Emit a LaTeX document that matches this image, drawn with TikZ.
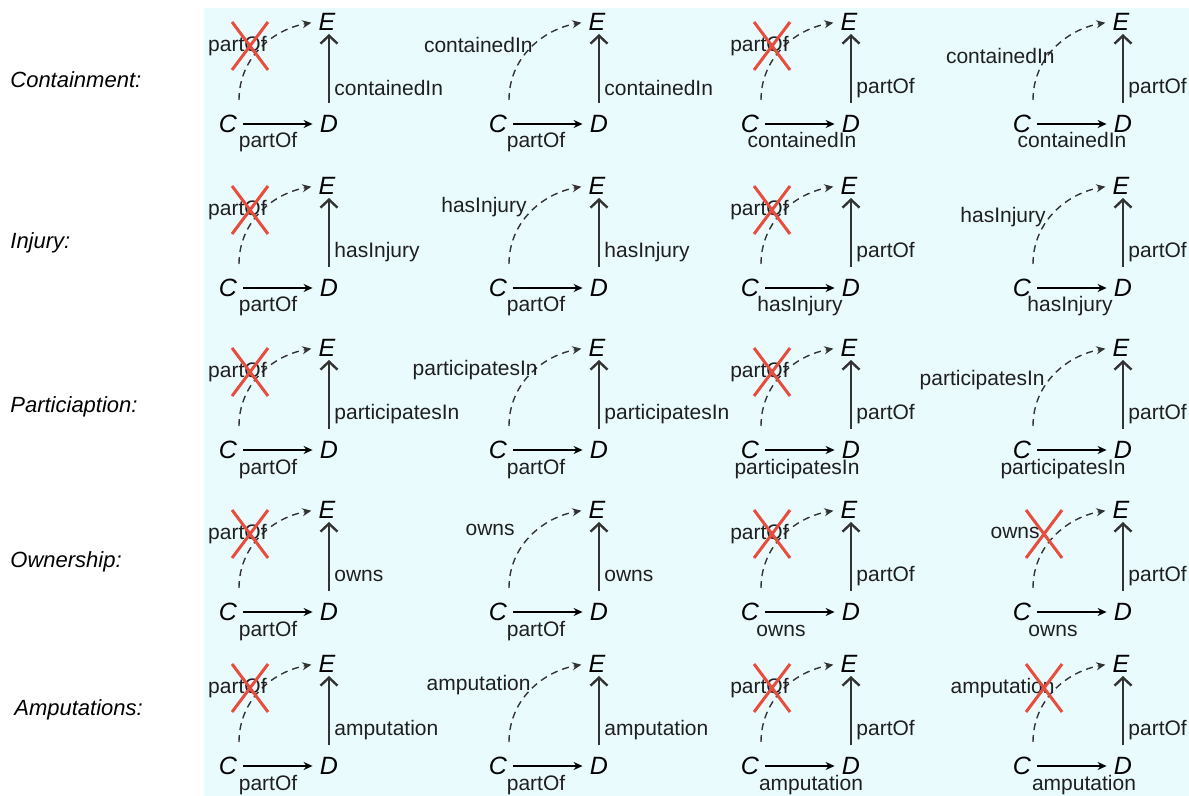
\documentclass[tikz,border=0pt]{standalone}
\usepackage{fontspec}
\setmainfont{Liberation Sans}
\usetikzlibrary{arrows.meta}
\definecolor{paleblue}{RGB}{234,251,254}
\definecolor{crossred}{RGB}{232,78,62}

% one C-D-E cell: name, place of C, dashed label, its east end, up label, right label, its centre
\newcommand{\relcell}[7]{%
  \begin{scope}[shift={(#2)}]
    \node[letter] (#1C) at (0,0) {C};
    \node[letter] (#1D) at (101,0) {D};
    \node[letter] (#1E) at (99,-102) {E};
    \coordinate (#1s) at (11,-24);
    \draw[flat] (#1C) -- (#1D);
    \draw[upward] (#1D.north) -- (#1D.north |- #1E.south);
    \draw[guess] (#1s) to[out=90, in=190] (#1E.west);
    \node[lbl, anchor=east] (#1dl) at (#4) {#3};
    \node[lbl, anchor=west] (#1vl) at (106,-36) {#5};
    \node[lbl, anchor=base] (#1hl) at (#7,24) {#6};
  \end{scope}}
\newcommand{\crossout}[1]{\draw[xmark, shift={(#1)}] (4,-102) -- (40,-54) (4,-54) -- (40,-102);}

\begin{document}
\begin{tikzpicture}[x=0.5pt, y=-0.5pt, line join=round,
    letter/.style={inner sep=1.5pt, font=\fontsize{12.5}{14}\selectfont\itshape},
    lbl/.style={inner sep=0pt, text=black!88, font=\fontsize{10.5}{12}\selectfont},
    rowname/.style={anchor=west, inner sep=0pt, font=\fontsize{11}{13}\selectfont\itshape},
    flat/.style={line width=0.75pt, -{Stealth[length=4.5pt, width=4pt]}, shorten <=1.5pt, shorten >=2pt},
    upward/.style={line width=0.75pt, black!80, -{Straight Barb[length=4pt, width=8.5pt, line width=1.2pt]}, shorten <=4.5pt},
    guess/.style={line width=0.7pt, black!80, dash pattern=on 3.5pt off 2.5pt, -{Stealth[length=4.5pt, width=4pt]}, shorten >=2pt},
    xmark/.style={crossred, line width=1.5pt}]
  \useasboundingbox (0,0) rectangle (1189,796);
  \fill[paleblue] (204,8) rectangle (1189,796);

  \node[rowname] (n1) at (10,80) {Containment:};
  \node[rowname] (n2) at (10,243) {Injury:};
  \node[rowname] (n3) at (10,407) {Particiaption:};
  \node[rowname] (n4) at (10,562) {Ownership:};
  \node[rowname] (n5) at (14,710) {Amputations:};

  % containment
  \relcell{a1}{228,124}{partOf}{39,-78}{containedIn}{partOf}{40}
  \relcell{a2}{498,124}{containedIn}{35,-79}{containedIn}{partOf}{38}
  \relcell{a3}{750,124}{partOf}{39,-78}{partOf}{containedIn}{52}
  \relcell{a4}{1022,124}{containedIn}{33,-68}{partOf}{containedIn}{50}
  \crossout{228,124}
  \crossout{750,124}

  % injury
  \relcell{b1}{228,288}{partOf}{39,-78}{hasInjury}{partOf}{40}
  \relcell{b2}{498,288}{hasInjury}{29,-81}{hasInjury}{partOf}{38}
  \relcell{b3}{750,288}{partOf}{39,-78}{partOf}{hasInjury}{50}
  \relcell{b4}{1022,288}{hasInjury}{24,-71}{partOf}{hasInjury}{48}
  \crossout{228,288}
  \crossout{750,288}

  % participation
  \relcell{c1}{228,450}{partOf}{39,-78}{participatesIn}{partOf}{40}
  \relcell{c2}{498,450}{participatesIn}{40,-80}{participatesIn}{partOf}{38}
  \relcell{c3}{750,450}{partOf}{39,-78}{partOf}{participatesIn}{47}
  \relcell{c4}{1022,450}{participatesIn}{23,-70}{partOf}{participatesIn}{41}
  \crossout{228,450}
  \crossout{750,450}

  % ownership
  \relcell{d1}{228,612}{partOf}{39,-78}{owns}{partOf}{40}
  \relcell{d2}{498,612}{owns}{17,-82}{owns}{partOf}{38}
  \relcell{d3}{750,612}{partOf}{39,-78}{partOf}{owns}{31}
  \relcell{d4}{1022,612}{owns}{18,-79}{partOf}{owns}{31}
  \crossout{228,612}
  \crossout{750,612}
  \crossout{1022,612}

  % amputation
  \relcell{e1}{228,766}{partOf}{39,-78}{amputation}{partOf}{40}
  \relcell{e2}{498,766}{amputation}{33,-81}{amputation}{partOf}{38}
  \relcell{e3}{750,766}{partOf}{39,-78}{partOf}{amputation}{61}
  \relcell{e4}{1022,766}{amputation}{33,-78}{partOf}{amputation}{62}
  \crossout{228,766}
  \crossout{750,766}
  \crossout{1022,766}
\end{tikzpicture}
\end{document}
